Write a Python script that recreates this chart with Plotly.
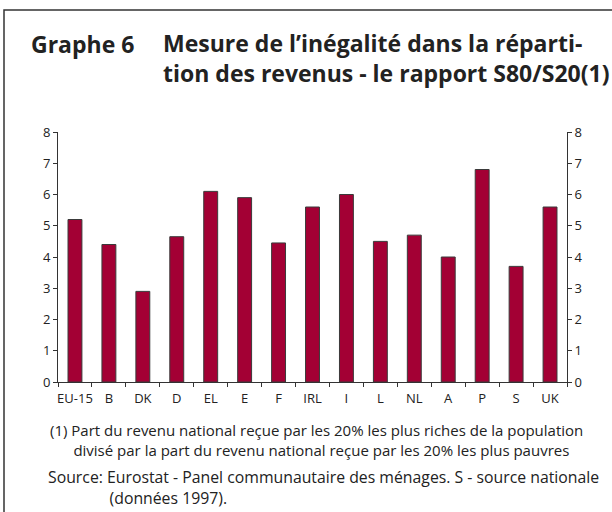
import plotly.graph_objects as go

categories = ["EU-15", "B", "DK", "D", "EL", "E", "F", "IRL", "I", "L", "NL", "A", "P", "S", "UK"]
values = [5.2, 4.4, 2.9, 4.65, 6.1, 5.9, 4.45, 5.6, 6.0, 4.5, 4.7, 4.0, 6.8, 3.7, 5.6]
y_ticks = [0, 1, 2, 3, 4, 5, 6, 7, 8]

W, H = 612, 512
L, R, T, B = 58, 567, 132, 382  # plot area in pixels


def px(x):
    return (x - L) / (R - L)


def py(y):
    return (B - y) / (B - T)


FONT = "Open Sans"
TXT = "#222222"

fig = go.Figure()
fig.add_trace(go.Bar(
    x=categories, y=values,
    marker=dict(color="#A30034", line=dict(color="#3a3a3a", width=1)),
    width=0.41, hoverinfo="x+y",
))
# invisible trace to activate right axis
fig.add_trace(go.Scatter(x=[categories[0]], y=[0], yaxis="y2", mode="markers",
                         marker=dict(opacity=0), showlegend=False, hoverinfo="skip"))

axis_common = dict(
    range=[0, 8], tickvals=y_ticks, ticks="outside", ticklen=4, tickwidth=1,
    tickcolor="#333", showline=True, linecolor="#333", linewidth=1,
    showgrid=False, zeroline=False,
    tickfont=dict(family=FONT, size=13, color=TXT),
)

fig.update_layout(
    width=W, height=H,
    margin=dict(l=L, r=W - R, t=T, b=H - B, pad=0),
    paper_bgcolor="white", plot_bgcolor="white",
    showlegend=False,
    xaxis=dict(
        type="category", showline=True, linecolor="#333", linewidth=1,
        ticks="outside", tickson="boundaries", ticklen=4, tickcolor="#333",
        tickangle=0, ticklabelstandoff=4,
        tickfont=dict(family=FONT, size=13, color=TXT), showgrid=False,
        range=[-0.5, len(categories) - 0.5],
    ),
    yaxis=dict(side="left", **axis_common),
    yaxis2=dict(side="right", overlaying="y", **axis_common),
    shapes=[
        dict(type="rect", xref="paper", yref="paper",
             x0=px(4), x1=px(640), y0=py(10), y1=py(540),
             line=dict(color="#333", width=1.5), fillcolor="rgba(0,0,0,0)", layer="below"),
    ],
)

ann = []
title_font = dict(family=FONT, size=23, color=TXT)
ann.append(dict(text="<b>Graphe 6</b>", x=px(29), y=py(44), xanchor="left", yanchor="middle",
                font=title_font))
ann.append(dict(text="<b>Mesure de l’inégalité dans la réparti-<br>"
                     "tion des revenus - le rapport S80/S20(1)</b>",
                x=px(161), y=py(58.5), xanchor="left", yanchor="middle", align="left",
                font=title_font))
note_font = dict(family=FONT, size=15, color=TXT)
src_font = dict(family=FONT, size=15.8, color=TXT)
ann.append(dict(text="(1) Part du revenu national reçue par les 20% les plus riches de la population"
                     "<br>" + "&nbsp;" * 6 +
                     "divisé par la part du revenu national reçue par les 20% les plus pauvres",
                x=px(48), y=py(440), xanchor="left", yanchor="middle", align="left",
                font=note_font))
ann.append(dict(text="Source: Eurostat - Panel communautaire des ménages. S - source nationale"
                     "<br>" + "&nbsp;" * 15 + "(données 1997).",
                x=px(46), y=py(487), xanchor="left", yanchor="middle", align="left",
                font=src_font))
for a in ann:
    a.update(xref="paper", yref="paper", showarrow=False)
fig.update_layout(annotations=ann)

fig.write_html("out.html", config={"displayModeBar": False},
               post_script="document.body.style.margin='0';document.body.style.padding='0';")
